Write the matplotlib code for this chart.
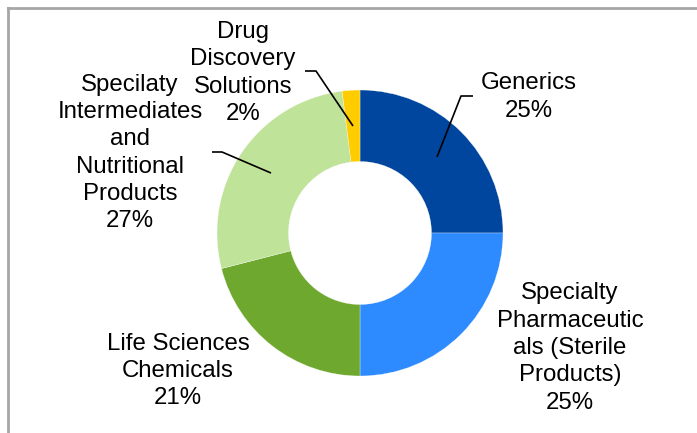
import matplotlib
matplotlib.use('Agg')
from matplotlib import pyplot as plt

matplotlib.rcParams['font.family'] = ['Liberation Sans', 'DejaVu Sans']

W, H = 697, 433

segments = ['Generics',
            'Specialty\nPharmaceutic\nals (Sterile\nProducts)',
            'Life Sciences\nChemicals',
            'Specilaty\nIntermediates\nand\nNutritional\nProducts',
            'Drug\nDiscovery\nSolutions']
shares = [25, 25, 21, 27, 2]
colors = ['#00469E', '#2E8BFF', '#6FA82E', '#C0E39A', '#FFCC00']

# label centres and leader lines, in image pixels (y down)
label_xy = [(529, 97), (570, 348), (178, 371), (130, 153), (243, 73)]
leaders = {0: [(473, 96), (461, 96), (437, 157)],
           3: [(212, 152), (222, 152), (271, 173)],
           4: [(305, 71), (316, 71), (353, 126)]}

fig = plt.figure(figsize=(W / 100, H / 100), dpi=100)
ax = fig.add_axes([0, 0, 1, 1])

cx, cy, r = 360, H - 233, 143
ax.pie(shares, colors=colors, startangle=90, counterclock=False,
       center=(cx, cy), radius=r,
       wedgeprops=dict(width=r * 0.5, edgecolor='white', linewidth=0.2))

for i, (name, val) in enumerate(zip(segments, shares)):
    x, y = label_xy[i]
    ax.text(x, H - y, f'{name}\n{val}%', ha='center', va='center',
            multialignment='center', fontsize=17.3, linespacing=1.31,
            color='black')

for pts in leaders.values():
    ax.plot([p[0] for p in pts], [H - p[1] for p in pts],
            color='black', lw=1.2, solid_capstyle='butt')

# outer frame (top and left edges visible)
ax.plot([8, W], [H - 8, H - 8], color='#A6A6A6', lw=2)
ax.plot([8, 8], [H - 8, 0], color='#A6A6A6', lw=2)

ax.set_xlim(0, W)
ax.set_ylim(0, H)
ax.set_aspect('auto')
ax.axis('off')

fig.savefig('out.png', dpi=100)
